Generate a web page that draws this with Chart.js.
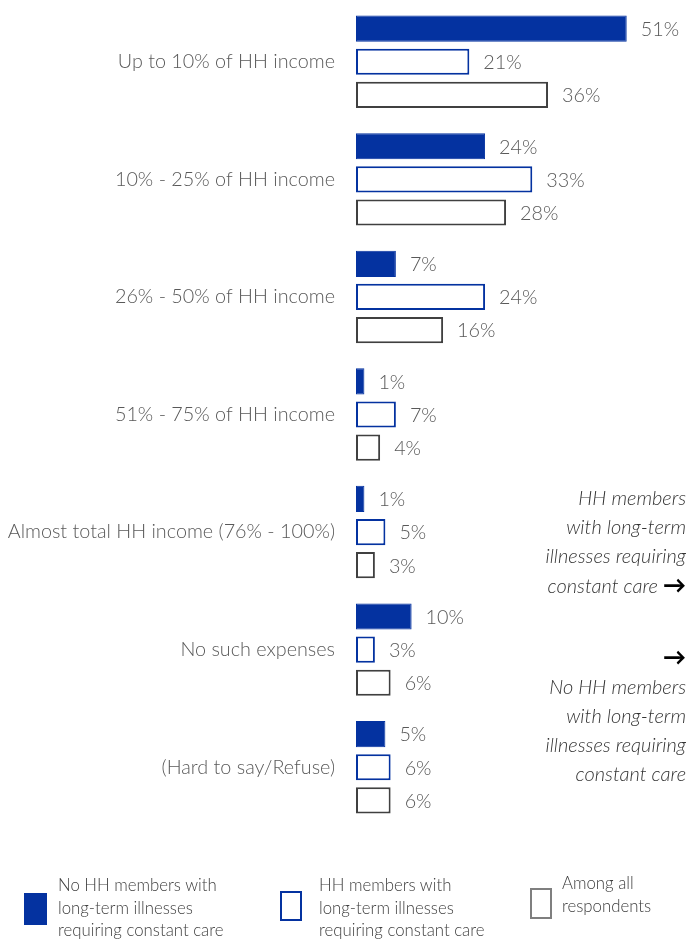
<!DOCTYPE html>
<html>
<head>
<meta charset="utf-8">
<script src="https://cdn.jsdelivr.net/npm/chart.js@4.4.1/dist/chart.umd.min.js"></script>
<style>
  html, body { margin: 0; padding: 0; background: #fff; }
  #wrap { position: relative; width: 687px; height: 939px; overflow: hidden; font-family: Lato, 'Open Sans', sans-serif; font-weight: 300; }
  #chart { position: absolute; left: 0; top: 0; }
  .note { position: absolute; right: 1px; text-align: right; font-style: italic; font-size: 20px; line-height: 29px; color: #333; }
  .arrow { font-style: normal; font-weight: 900; font-size: 23px; color: #000; }
  .legend-box { position: absolute; box-sizing: border-box; }
  .legend-text { position: absolute; font-size: 16.8px; line-height: 22.5px; color: #404040; }
</style>
</head>
<body>
<div id="wrap">
  <canvas id="chart" width="687" height="939"></canvas>

  <div class="note" style="top:483px">HH members<br>with long-term<br>illnesses requiring<br>constant care <span class="arrow">&#8594;</span></div>
  <div class="note" style="top:642px"><span class="arrow">&#8594;</span><br>No HH members<br>with long-term<br>illnesses requiring<br>constant care</div>

  <div class="legend-box" style="left:24px;top:893px;width:23px;height:32px;background:#0432a0;"></div>
  <div class="legend-text" style="left:58px;top:874px">No HH members with<br>long-term illnesses<br>requiring constant care</div>
  <div class="legend-box" style="left:280px;top:891px;width:22px;height:30px;border:2px solid #0432a0;"></div>
  <div class="legend-text" style="left:319px;top:874px">HH members with<br>long-term illnesses<br>requiring constant care</div>
  <div class="legend-box" style="left:530px;top:888px;width:22px;height:31px;border:2px solid #7f7f7f;"></div>
  <div class="legend-text" style="left:562px;top:872px">Among all<br>respondents</div>
</div>

<script>
const categories = [
  'Up to 10% of HH income',
  '10% - 25% of HH income',
  '26% - 50% of HH income',
  '51% - 75% of HH income',
  'Almost total HH income (76% - 100%)',
  'No such expenses',
  '(Hard to say/Refuse)'
]
const noIllness = [51, 24, 7, 1, 1, 10, 5]
const withIllness = [21, 33, 24, 7, 5, 3, 6]
const allRespondents = [36, 28, 16, 4, 3, 6, 6]

const BLUE = '#0432a0'
const FONT = 'Lato, "Open Sans", sans-serif'
// bars grow from the left edge of the plot, a touch below zero
const AXIS_MIN = -0.6

// writes "NN%" just past the end of each bar
const valueLabels = {
  id: 'valueLabels',
  afterDatasetsDraw(chart) {
    const ctx = chart.ctx
    ctx.save()
    ctx.font = '300 19.8px ' + FONT
    ctx.fillStyle = '#595959'
    ctx.textBaseline = 'middle'
    ctx.textAlign = 'left'
    chart.data.datasets.forEach((ds, i) => {
      chart.getDatasetMeta(i).data.forEach((bar, j) => {
        ctx.fillText(ds.data[j] + '%', bar.x + 14, bar.y + 1)
      })
    })
    ctx.restore()
  },
}

new Chart(document.getElementById('chart').getContext('2d'), {
  type: 'bar',
  data: {
    labels: categories,
    datasets: [
      {
        data: noIllness,
        backgroundColor: BLUE,
        borderColor: BLUE,
        borderWidth: 1,
      },
      {
        data: withIllness,
        backgroundColor: '#ffffff',
        borderColor: BLUE,
        borderWidth: 2,
      },
      {
        data: allRespondents,
        backgroundColor: '#ffffff',
        borderColor: '#404040',
        borderWidth: 2,
      },
    ],
  },
  options: {
    indexAxis: 'y',
    responsive: false,
    animation: false,
    categoryPercentage: 0.845,
    barPercentage: 0.79,
    borderSkipped: false,
    base: AXIS_MIN,
    layout: {
      padding: { top: 3, bottom: 113, right: 12, left: 0 },
    },
    plugins: {
      legend: { display: false },
      tooltip: { enabled: false },
    },
    scales: {
      x: {
        display: false,
        min: AXIS_MIN,
        max: 60.2,
      },
      y: {
        grid: { display: false, drawTicks: false },
        border: { display: false },
        ticks: {
          color: '#595959',
          padding: 21,
          font: { family: FONT, size: 19.8, weight: '300' },
        },
        afterFit(scale) {
          // fixed axis width so the bars start at the same x, no extra label padding
          scale.width = 356
          scale.paddingTop = 0
          scale.paddingBottom = 0
        },
      },
    },
  },
  plugins: [valueLabels],
})
</script>
</body>
</html>
